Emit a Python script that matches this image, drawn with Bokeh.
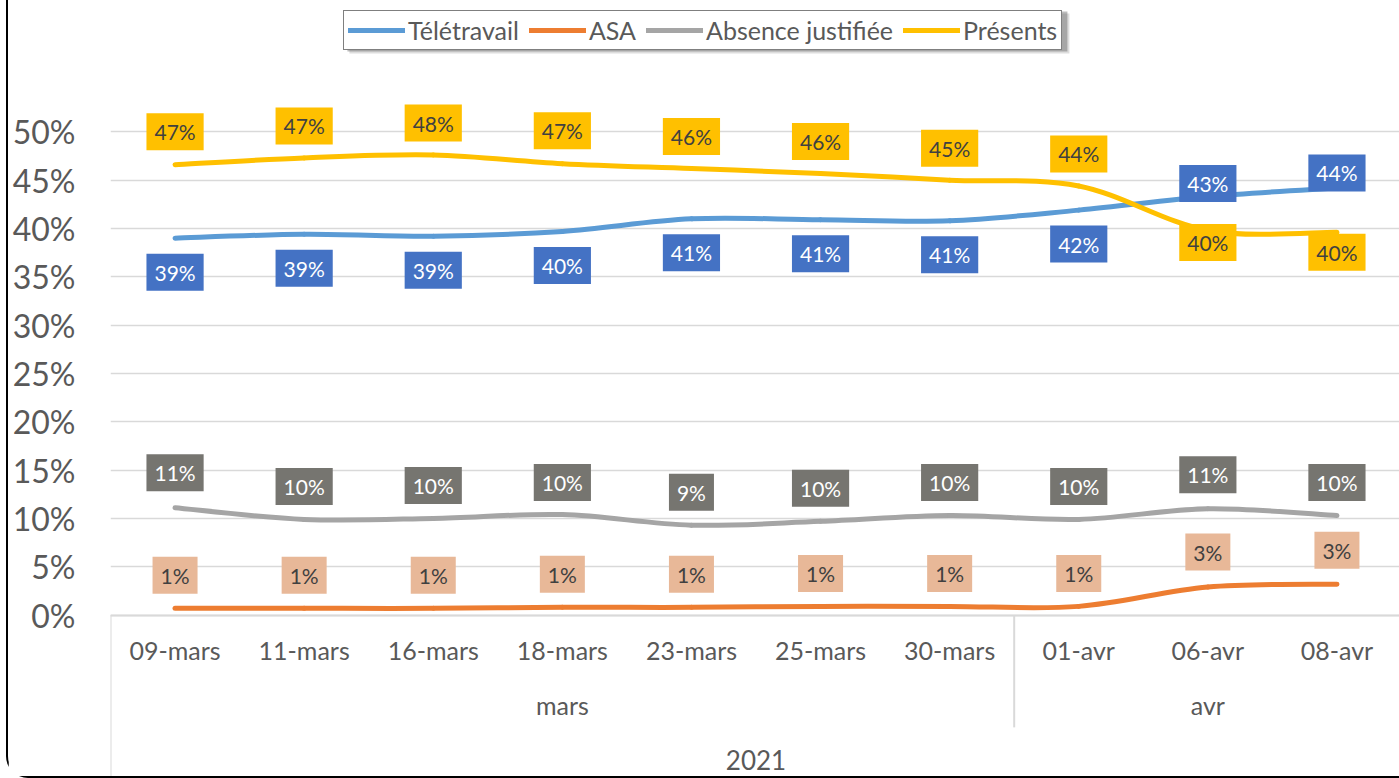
from bokeh.plotting import figure
from bokeh.models import (FactorRange, Range1d, FixedTicker, NumeralTickFormatter,
                          Legend, LegendItem, ColumnDataSource)
from bokeh.core.properties import value
from bokeh.embed import file_html
from bokeh.resources import INLINE

# ---------------- data ----------------
dates = ["09-mars", "11-mars", "16-mars", "18-mars", "23-mars",
         "25-mars", "30-mars", "01-avr", "06-avr", "08-avr"]
months = ["mars", "avr"]
month_counts = [7, 3]
year = "2021"

teletravail = [0.390, 0.394, 0.392, 0.397, 0.410, 0.409, 0.408, 0.419, 0.433, 0.442]
asa = [0.007, 0.007, 0.007, 0.008, 0.008, 0.009, 0.009, 0.009, 0.029, 0.032]
absence = [0.111, 0.099, 0.100, 0.104, 0.093, 0.097, 0.103, 0.099, 0.110, 0.103]
presents = [0.466, 0.473, 0.476, 0.467, 0.462, 0.457, 0.450, 0.444, 0.398, 0.396]

y_ticks = [0.0, 0.05, 0.10, 0.15, 0.20, 0.25, 0.30, 0.35, 0.40, 0.45, 0.50]

# label vertical offsets in screen px (positive = downwards) -- styling
tele_dy = [34] * 8 + [-13, -15]
asa_dy = [-33] * 8 + [-35, -34]
abs_dy = [-35, -33, -33, -32, -33, -33, -33, -33, -34, -33]
pres_dy = [-33, -32, -32, -33, -32, -32, -32, -32, 12, 20]

FONT = value("Lato")
GREY_TXT = "#595959"
SEP = "#D9D9D9"

MARGIN_L = 6
W, H = 1399 - MARGIN_L, 778   # includes a 2px CSS border on left / bottom
CW, CH = W - 2, H - 2         # canvas size
LEFT = 110 - MARGIN_L - 2     # frame starts at page x = 110
ZERO_Y = 613                  # pixel row of the 0% line
PX_PER_UNIT = 964.0
y_top = ZERO_Y / PX_PER_UNIT
y_bot = -(CH - ZERO_Y) / PX_PER_UNIT
PX_PER_CAT = (CW - LEFT) / len(dates)

p = figure(width=W, height=H, output_backend="svg", toolbar_location=None,
           x_range=FactorRange(*dates, range_padding=0, factor_padding=0),
           y_range=Range1d(y_bot, y_top),
           min_border_left=LEFT, min_border_right=0, min_border_top=0,
           min_border_bottom=0)
p.styles = {"margin-left": f"{MARGIN_L}px",
            "border-left": "2px solid black", "border-bottom": "2px solid black",
            "border-bottom-left-radius": "22px"}
p.outline_line_color = None
p.background_fill_color = "white"
p.border_fill_color = "white"

# y axis
p.yaxis.ticker = FixedTicker(ticks=y_ticks)
p.yaxis.formatter = NumeralTickFormatter(format="0%")
p.yaxis.axis_line_color = None
p.yaxis.major_tick_line_color = None
p.yaxis.minor_tick_line_color = None
p.yaxis.major_label_text_font = "Lato"
p.yaxis.major_label_text_font_size = "32px"
p.yaxis.major_label_text_color = GREY_TXT
p.yaxis.major_label_standoff = 29

# x axis, placed on the 0% line
p.xaxis.fixed_location = 0
p.xaxis.axis_line_color = SEP
p.xaxis.axis_line_width = 2
p.xaxis.major_tick_line_color = None
p.xaxis.minor_tick_line_color = None
p.xaxis.major_label_text_font = "Lato"
p.xaxis.major_label_text_font_size = "25px"
p.xaxis.major_label_text_color = GREY_TXT
p.xaxis.major_label_standoff = 14

p.xgrid.visible = False
p.ygrid.grid_line_color = SEP
p.ygrid.grid_line_width = 1.5


def bezier_source(vals):
    n = len(vals)
    pts = [(i + 0.5, v) for i, v in enumerate(vals)]
    d = dict(x0=[], y0=[], x1=[], y1=[], cx0=[], cy0=[], cx1=[], cy1=[])
    for i in range(n - 1):
        p0 = pts[max(i - 1, 0)]
        p1 = pts[i]
        p2 = pts[i + 1]
        p3 = pts[min(i + 2, n - 1)]
        d["x0"].append(p1[0]); d["y0"].append(p1[1])
        d["x1"].append(p2[0]); d["y1"].append(p2[1])
        d["cx0"].append(p1[0] + (p2[0] - p0[0]) / 6.0)
        d["cy0"].append(p1[1] + (p2[1] - p0[1]) / 6.0)
        d["cx1"].append(p2[0] - (p3[0] - p1[0]) / 6.0)
        d["cy1"].append(p2[1] - (p3[1] - p1[1]) / 6.0)
    return ColumnDataSource(d)


series = [
    ("Télétravail", teletravail, "#5B9BD5", "#4472C4", "#FFFFFF", tele_dy),
    ("ASA", asa, "#ED7D31", "#E8B898", "#404040", asa_dy),
    ("Absence justifiée", absence, "#A5A5A5", "#767570", "#FFFFFF", abs_dy),
    ("Présents", presents, "#FFC000", "#FFC000", "#404040", pres_dy),
]

# category group separators and labels (below the 0% line)
bounds = [0]
for c in month_counts:
    bounds.append(bounds[-1] + c)
sep_x = [bounds[0]] + bounds[1:-1]
sep_y1 = [y_bot] + [-112 / PX_PER_UNIT] * (len(bounds) - 2)
p.segment(x0=sep_x, y0=[0] * len(sep_x), x1=sep_x, y1=sep_y1,
          line_color=SEP, line_width=2)
p.text(x=[(a + b) / 2.0 for a, b in zip(bounds[:-1], bounds[1:])],
       y=[-90 / PX_PER_UNIT] * len(months), text=months,
       text_align="center", text_baseline="middle",
       text_font=FONT, text_font_size="25px", text_color=GREY_TXT)
p.text(x=[bounds[-1] / 2.0], y=[-145 / PX_PER_UNIT], text=[year],
       text_align="center", text_baseline="middle",
       text_font=FONT, text_font_size="26px", text_color=GREY_TXT)

# legend geometry (screen px, relative to the frame's bottom-left)
LEG_X, LEG_BOTTOM, LEG_W, LEG_H = 233, CH - 48, 720, 40
# soft drop shadow behind the legend box
for off, alpha in [(5, 0.18), (3, 0.35)]:
    cx = (LEG_X + LEG_W / 2.0 + off) / PX_PER_CAT
    cy = (LEG_BOTTOM + LEG_H / 2.0 - off - (CH - ZERO_Y)) / PX_PER_UNIT
    p.rect(x=[cx], y=[cy], width=LEG_W, height=LEG_H, width_units="screen",
           height_units="screen", fill_color="#404040", fill_alpha=alpha,
           line_color=None)

items = []
for name, vals, lc, _, _, _ in series:
    r = p.bezier(x0="x0", y0="y0", x1="x1", y1="y1", cx0="cx0", cy0="cy0",
                 cx1="cx1", cy1="cy1", source=bezier_source(vals),
                 line_color=lc, line_width=5, line_cap="round")
    items.append(LegendItem(label=name, renderers=[r]))

for name, vals, lc, bg, tc, dy in series:
    src = ColumnDataSource(dict(x=dates, y=vals,
                                t=[f"{round(v * 100)}%" for v in vals], dy=dy))
    p.text(x="x", y="y", text="t", y_offset="dy", source=src,
           text_align="center", text_baseline="middle",
           text_font=FONT, text_font_size="21px", text_color=tc,
           background_fill_color=bg, padding=(8, 6))

legend = Legend(items=items, orientation="horizontal", location=(LEG_X, LEG_BOTTOM),
                label_text_font="Lato", label_text_font_size="25px",
                label_text_color=GREY_TXT, glyph_width=57, glyph_height=24,
                label_standoff=3, spacing=10, padding=4, margin=0,
                border_line_color="black", border_line_width=1.5,
                background_fill_color="white", background_fill_alpha=1)
p.add_layout(legend, "center")

open("out.html", "w").write(file_html(p, INLINE))
